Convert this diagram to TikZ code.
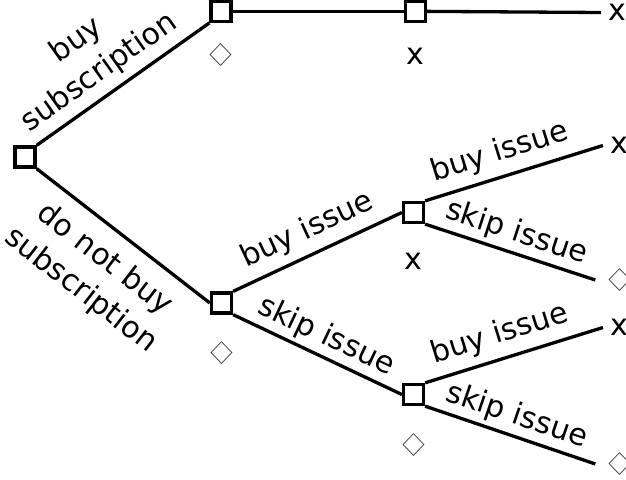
\documentclass[tikz,border=0pt]{standalone}
\usepackage{fontspec}
\setmainfont{DejaVu Sans}
\usetikzlibrary{positioning}

\newcommand{\dmd}{\textcolor{black!80}{\scalebox{1.3}[1.05]{♢}}}

\begin{document}
\begin{tikzpicture}[x=1pt, y=-1pt, font=\fontsize{30}{39}\selectfont,
  decision/.style={draw, line width=3.3pt, minimum size=20pt, inner sep=0pt},
  leaf/.style={inner sep=7pt},
  branch/.style={line width=3.3pt},
  upchoice/.style={midway, sloped, above, inner sep=8pt, align=center},
  downchoice/.style={midway, sloped, above, inner sep=4pt},
  outcome/.style={inner sep=0pt}]
\useasboundingbox (0,0) rectangle (626,479);

\node[decision] (root) at (25,157) {};
\node[decision, label={[outcome, label distance=20pt]below:\dmd}] (subscr) at (221,11.3) {};
\node[decision, label={[outcome, label distance=25pt]below:x}] (subscr_2) at (415.5,11.3) {};
\node[decision, label={[outcome, label distance=27pt]below:\dmd}] (nosub) at (221.5,303) {};
\node[decision, label={[outcome, label distance=29pt]below:x}] (buy_1) at (413.5,212.5) {};
\node[decision, label={[outcome, label distance=27pt]below:\dmd}] (skip_1) at (413.5,394.5) {};

\node[leaf] (end_0) at (617,12.5) {x};
\node[leaf] (end_1) at (619,145.5) {x};
\node[leaf] (end_2) at (620,280) {\dmd};
\node[leaf] (end_3) at (619,327.5) {x};
\node[leaf] (end_4) at (620,464) {\dmd};

\draw[branch] (root.north east) -- (subscr.south west)
    node[upchoice, pos=0.44, inner sep=7pt] {buy\\subscription};
\draw[branch] (subscr) -- (subscr_2);
\draw[branch] (subscr_2) -- (end_0.west);
\draw[branch] (root.south east) -- (nosub.west)
    node[midway, sloped, below, inner sep=14pt, align=center] {do not buy\\subscription};
\draw[branch] (nosub.north east) -- (buy_1.west)
    node[upchoice] {buy issue};
\draw[branch] (nosub.south east) -- (skip_1.west)
    node[downchoice] {skip issue};
\draw[branch] (buy_1.north east) -- (end_1.west)
    node[upchoice, pos=0.46] {buy issue};
\draw[branch] (buy_1.south east) -- (end_2.west)
    node[downchoice] {skip issue};
\draw[branch] (skip_1.north east) -- (end_3.west)
    node[upchoice, pos=0.46] {buy issue};
\draw[branch] (skip_1.south east) -- (end_4.west)
    node[downchoice] {skip issue};

\end{tikzpicture}
\end{document}
